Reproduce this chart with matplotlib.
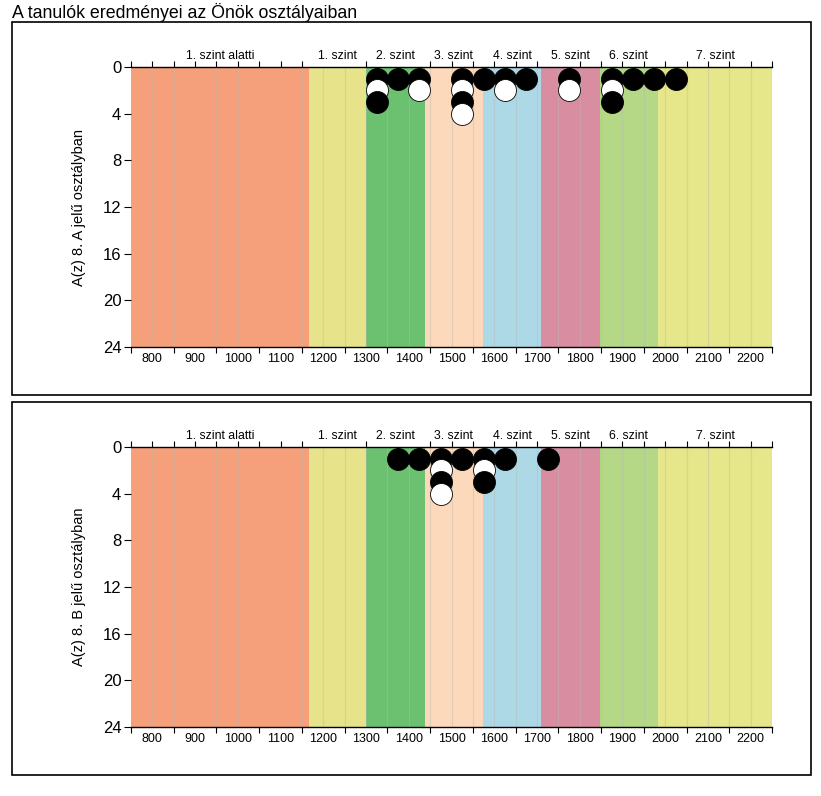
import matplotlib
matplotlib.use("Agg")
import matplotlib.pyplot as plt
from matplotlib.patches import Rectangle
import numpy as np

plt.rcParams['font.family'] = ['Liberation Sans', 'DejaVu Sans']

# ---- data ----
title = "A tanulók eredményei az Önök osztályaiban"
band_edges = [750, 1167, 1300, 1437, 1574, 1710, 1847, 1983, 2250]
band_labels = ["1. szint alatti", "1. szint", "2. szint", "3. szint",
               "4. szint", "5. szint", "6. szint", "7. szint"]
band_colors = ["#F5A07A", "#E6E38A", "#6CC171", "#FCD9BA",
               "#ADD8E6", "#D88EA0", "#B4D886", "#E6E68A"]

class_labels = ["A(z) 8. A jelű osztályban", "A(z) 8. B jelű osztályban"]

a_scores = [1325, 1375, 1425, 1525, 1575, 1625, 1675, 1775, 1875, 1925, 1975, 2025]
a_counts = [3, 1, 2, 4, 1, 2, 1, 2, 3, 1, 1, 1]

b_scores = [1375, 1425, 1475, 1525, 1575, 1625, 1725]
b_counts = [1, 1, 4, 1, 3, 1, 1]

x_labels = [800, 900, 1000, 1100, 1200, 1300, 1400, 1500, 1600, 1700,
            1800, 1900, 2000, 2100, 2200]
y_ticks = [0, 4, 8, 12, 16, 20, 24]
top_ticks = [750, 800, 850, 900, 950, 1000, 1050, 1100, 1150, 1300, 1450,
             1500, 1550, 1600, 1650, 1700, 1800, 1850, 1900, 1950, 2000,
             2050, 2100, 2150, 2200, 2250]

W, H = 821, 796
fig = plt.figure(figsize=(W / 100, H / 100), dpi=100)

fig.text(12 / W, 1 - 12 / H, title, fontsize=12.8, ha='left', va='center')

panels = [
    (class_labels[0], a_scores, a_counts, 22, 395, 67, 347),
    (class_labels[1], b_scores, b_counts, 402, 775, 447, 727),
]

for ylabel, scores, counts, by0, by1, ay0, ay1 in panels:
    # frame box
    fig.patches.append(Rectangle((12 / W, 1 - by1 / H), 799 / W, (by1 - by0) / H,
                                 transform=fig.transFigure, fill=False,
                                 edgecolor='black', linewidth=1.2))
    ax = fig.add_axes([131 / W, 1 - ay1 / H, (772 - 131) / W, (ay1 - ay0) / H])
    ax.set_xlim(band_edges[0], band_edges[-1])
    ax.set_ylim(24, 0)

    for i in range(len(band_labels)):
        ax.axvspan(band_edges[i], band_edges[i + 1], color=band_colors[i],
                   lw=0, zorder=0)
        ax.text((band_edges[i] + band_edges[i + 1]) / 2, -0.45, band_labels[i],
                ha='center', va='bottom', fontsize=8.8)
    for g in np.arange(800, 2250, 50):
        ax.axvline(g, color='#b8b8b8', alpha=0.4, lw=0.8, zorder=1)

    for s, c in zip(scores, counts):
        for k in range(1, c + 1):
            ax.scatter([s], [k], s=250, facecolor='black' if k % 2 == 1 else 'white',
                       edgecolor='black', linewidth=0.6, zorder=3 + k,
                       clip_on=False)

    ax.spines['left'].set_visible(False)
    ax.spines['right'].set_visible(False)
    ax.spines['top'].set_visible(True)
    ax.spines['bottom'].set_linewidth(1.0)
    ax.spines['top'].set_linewidth(1.0)

    ax.set_yticks(y_ticks)
    ax.set_yticklabels([str(v) for v in y_ticks], fontsize=12)
    ax.tick_params(axis='y', length=5, width=0.8, pad=2)

    ax.set_xticks(np.arange(750, 2251, 100))
    ax.set_xticklabels([])
    ax.set_xticks(x_labels, minor=True)
    ax.set_xticklabels([str(v) for v in x_labels], minor=True, fontsize=9)
    ax.tick_params(axis='x', which='major', length=4, width=0.8, direction='out')
    ax.tick_params(axis='x', which='minor', length=0, pad=4)

    axt = ax.secondary_xaxis('top')
    axt.set_xticks(top_ticks)
    axt.set_xticklabels([])
    axt.tick_params(length=4, width=0.8, direction='out')
    axt.spines['top'].set_visible(False)

    ax.set_ylabel(ylabel, fontsize=10.5, labelpad=12)

fig.savefig("out.png", dpi=100)
